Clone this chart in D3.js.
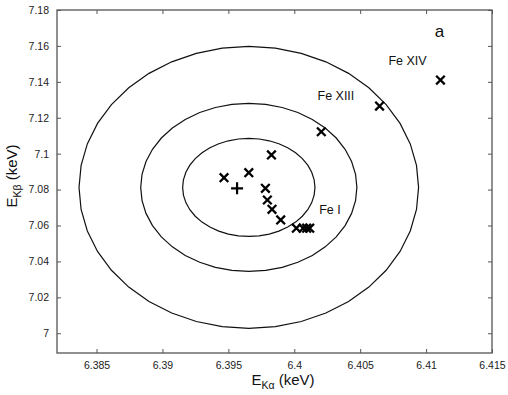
<!DOCTYPE html>
<html>
<head>
<meta charset="utf-8">
<script src="https://cdn.jsdelivr.net/npm/d3@7"></script>
<style>
  body{margin:0;background:#fff;}
  text{font-family:"Liberation Sans",Arial,sans-serif;}
</style>
</head>
<body>
<div class="plot"></div>
<script>
// measured points (E_Ka, E_Kb) in keV
var ka=[6.39467,6.39655,6.39827,6.39781,6.39796,6.39831,6.39897,6.40016,6.40067,6.40094,6.40117,6.40205,6.40647,6.41109];
var kb=[7.0866,7.0894,7.0993,7.0807,7.0742,7.0690,7.0631,7.0585,7.0585,7.0585,7.0585,7.1122,7.1265,7.1410];
// mean position (+)
var meanKa=[6.39566];
var meanKb=[7.0807];
// contour ellipses: centre and half-widths in keV
var ellCx=[6.39655,6.39655,6.39655];
var ellCy=[7.0812,7.0812,7.0812];
var ellRx=[0.00502,0.0082,0.01288];
var ellRy=[0.0273,0.0468,0.0785];
// annotations
var labText=["Fe XIV","Fe XIII","Fe I"];
var labX=[6.40859,6.40316,6.40271];
var labY=[7.1516,7.1321,7.0690];
var xTicks=[6.385,6.39,6.395,6.4,6.405,6.41,6.415];
var yTicks=[7,7.02,7.04,7.06,7.08,7.1,7.12,7.14,7.16,7.18];

var W=508,H=395;
var m={l:57,t:10,r:16,b:42};

var svg=d3.select(".plot").append("svg")
  .attr("width",W)
  .attr("height",H);

var x=d3.scaleLinear().domain([6.382,6.415]).range([m.l,W-m.r]);
var y=d3.scaleLinear().domain([6.989,7.18]).range([H-m.b,m.t]);

// frame
svg.append("rect")
  .attr("x",m.l).attr("y",m.t)
  .attr("width",W-m.r-m.l).attr("height",H-m.b-m.t)
  .attr("fill","none").attr("stroke","#555").attr("stroke-width",1.3);

var axisCol="#555";
function styleAxis(g){
  g.select(".domain").remove();
  g.selectAll("line").attr("stroke",axisCol);
  g.selectAll("text").attr("fill","#222").attr("font-size","10.5px");
}

svg.append("g")
  .attr("transform","translate(0,"+(H-m.b)+")")
  .call(d3.axisBottom(x).tickValues(xTicks).tickSizeInner(-4).tickSizeOuter(0).tickPadding(9).tickFormat(d3.format("")))
  .call(styleAxis);
svg.append("g")
  .attr("transform","translate(0,"+m.t+")")
  .call(d3.axisTop(x).tickValues(xTicks).tickSizeInner(-4).tickSizeOuter(0).tickFormat(""))
  .call(styleAxis);
svg.append("g")
  .attr("transform","translate("+m.l+",0)")
  .call(d3.axisLeft(y).tickValues(yTicks).tickSizeInner(-4).tickSizeOuter(0).tickPadding(8).tickFormat(d3.format("")))
  .call(styleAxis);
svg.append("g")
  .attr("transform","translate("+(W-m.r)+",0)")
  .call(d3.axisRight(y).tickValues(yTicks).tickSizeInner(-4).tickSizeOuter(0).tickFormat(""))
  .call(styleAxis);

// ellipses, drawn as polylines like the original
var line=d3.line().curve(d3.curveLinearClosed);
var g=svg.append("g");
for(var k=0;k<ellCx.length;k++){
  var pts=[];
  for(var j=0;j<40;j++){
    var a=j/40*Math.PI*2;
    pts.push([x(ellCx[k]+ellRx[k]*Math.cos(a)), y(ellCy[k]+ellRy[k]*Math.sin(a))]);
  }
  g.append("path")
    .attr("d",line(pts))
    .attr("fill","none")
    .attr("stroke","#111")
    .attr("stroke-width",1.2);
}

// x markers
var s=4.3;
var pts=ka.map(function(d,i){return [d,kb[i]];});
var mk=svg.append("g").selectAll(".mk")
  .data(pts)
  .enter()
  .append("path")
  .attr("class","mk")
  .attr("d",function(d){
    var px=x(d[0]),py=y(d[1]);
    return "M"+(px-s)+","+(py-s)+"L"+(px+s)+","+(py+s)+"M"+(px-s)+","+(py+s)+"L"+(px+s)+","+(py-s);
  })
  .attr("stroke","#000")
  .attr("stroke-width",2.3)
  .attr("fill","none");

// + marker
var p=6;
svg.append("g").selectAll(".pl")
  .data(meanKa.map(function(d,i){return [d,meanKb[i]];}))
  .enter()
  .append("path")
  .attr("d",function(d){
    var px=x(d[0]),py=y(d[1]);
    return "M"+(px-p)+","+py+"L"+(px+p)+","+py+"M"+px+","+(py-p)+"L"+px+","+(py+p);
  })
  .attr("stroke","#000")
  .attr("stroke-width",2.2);

// labels
svg.append("g").selectAll(".lab")
  .data(labText)
  .enter()
  .append("text")
  .attr("x",function(d,i){return x(labX[i]);})
  .attr("y",function(d,i){return y(labY[i]);})
  .attr("dy","0.35em")
  .attr("text-anchor","middle")
  .attr("font-size","12.5px")
  .attr("fill","#111")
  .text(function(d){return d;});

svg.append("text")
  .attr("x",x(6.41102)).attr("y",y(7.1683))
  .attr("dy","0.35em")
  .attr("text-anchor","middle")
  .attr("font-size","17px")
  .attr("fill","#111")
  .text("a");

// axis titles
var xl=svg.append("text")
  .attr("x",283).attr("y",385)
  .attr("text-anchor","middle")
  .attr("font-size","15px")
  .attr("fill","#111");
xl.append("tspan").text("E");
xl.append("tspan").attr("font-size","10.5px").attr("dy","4").text("Kα");
xl.append("tspan").attr("dy","-4").text(" (keV)");

var yl=svg.append("text")
  .attr("transform","translate(17,176) rotate(-90)")
  .attr("text-anchor","middle")
  .attr("font-size","15px")
  .attr("fill","#111");
yl.append("tspan").text("E");
yl.append("tspan").attr("font-size","10.5px").attr("dy","4").text("Kβ");
yl.append("tspan").attr("dy","-4").text(" (keV)");
</script>
</body>
</html>
